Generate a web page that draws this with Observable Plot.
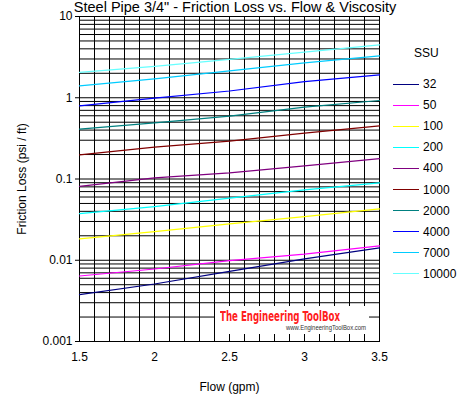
<!DOCTYPE html>
<html>
<head>
<meta charset="utf-8">
<script src="https://cdn.jsdelivr.net/npm/d3@7"></script>
<script src="https://cdn.jsdelivr.net/npm/@observablehq/plot@0.6"></script>
<style>
  html, body { margin: 0; padding: 0; background: #fff; }
  #wrap { position: relative; width: 470px; height: 407px; font-family: "Liberation Sans", Arial, sans-serif; color: #000; }
  #title { position: absolute; left: 0; width: 470px; top: -1px; text-align: center; font-size: 14.5px; line-height: 16px; padding-left: 0px; white-space: nowrap; }
  #legend { position: absolute; left: 0; top: 0; }
  .lg-title { position: absolute; left: 414px; top: 46px; font-size: 12px; }
  .lg-line { position: absolute; left: 393px; width: 26px; height: 1px; }
  .lg-text { position: absolute; left: 423px; font-size: 12px; line-height: 14px; }
  #wm { position: absolute; left: 215px; top: 306px; width: 154px; height: 28px; background: #fff; }
  #wm .big { position: absolute; left: 5px; top: 2px; width: 120px; font-family: "DejaVu Sans Condensed", "Liberation Sans Narrow", sans-serif; font-weight: bold; font-size: 14px; color: #ff2020; white-space: nowrap; }
  #wm .small { position: absolute; left: 71px; top: 18px; font-size: 7px; color: #333; white-space: nowrap; transform: scaleX(0.85); transform-origin: left top; }
  svg { display: block; }
</style>
</head>
<body>
<div id="wrap">
  <div id="chart"></div>
  <div id="title">Steel Pipe 3/4" - Friction Loss vs. Flow &amp; Viscosity</div>
  <div id="legend"></div>
  <div id="wm"><div class="big"><span id="wmt" style="display:inline-block;transform-origin:left top;">The Engineering ToolBox</span></div><div class="small">www.EngineeringToolBox.com</div></div>
</div>
<script>
// Flow (gpm)
const flows = [1.5, 2, 2.5, 3, 3.5];

// Friction loss (psi/ft) per viscosity (SSU), read at the flows above
const ssu32    = [0.00377, 0.0051, 0.0073, 0.0104, 0.0142];
const ssu50    = [0.0064, 0.0078, 0.0099, 0.0119, 0.0150];
const ssu100   = [0.0183, 0.0225, 0.028, 0.0344, 0.0428];
const ssu200   = [0.0375, 0.0457, 0.058, 0.0734, 0.0896];
const ssu400   = [0.081, 0.103, 0.119, 0.145, 0.178];
const ssu1000  = [0.198, 0.247, 0.292, 0.366, 0.451];
const ssu2000  = [0.41, 0.49, 0.593, 0.766, 0.925];
const ssu4000  = [0.796, 0.99, 1.21, 1.58, 1.91];
const ssu7000  = [1.40, 1.71, 2.14, 2.69, 3.28];
const ssu10000 = [2.05, 2.43, 2.96, 3.64, 4.48];

const seriesNames = ["32", "50", "100", "200", "400", "1000", "2000", "4000", "7000", "10000"];
const seriesValues = [ssu32, ssu50, ssu100, ssu200, ssu400, ssu1000, ssu2000, ssu4000, ssu7000, ssu10000];
const seriesColors = ["#000080", "#ff00ff", "#ffff00", "#00ffff", "#800080", "#800000", "#008080", "#0000ff", "#00ccff", "#66ffff"];

const yTickValues = [0.001, 0.01, 0.1, 1, 10];
const yTickLabels = ["0.001", "0.01", "0.1", "1", "10"];
const xTickValues = [1.5, 2, 2.5, 3, 3.5];
const xTickLabels = ["1.5", "2", "2.5", "3", "3.5"];

const rows = [];
seriesNames.forEach((name, i) => {
  flows.forEach((f, j) => rows.push({ssu: name, flow: f, loss: seriesValues[i][j]}));
});

const xGrid = d3.range(15, 36).map(d => d / 10);

const chart = Plot.plot({
  width: 470,
  height: 407,
  marginLeft: 79,
  marginRight: 91,
  marginTop: 16,
  marginBottom: 66,
  style: {fontFamily: '"Liberation Sans", Arial, sans-serif', fontSize: "12px", color: "#000", background: "transparent", overflow: "visible"},
  x: {domain: [1.5, 3.5]},
  y: {type: "log", domain: [0.001, 10]},
  color: {domain: seriesNames, range: seriesColors},
  marks: [
    Plot.gridX(xGrid, {stroke: "#000", strokeOpacity: 1, strokeWidth: 1}),
    Plot.gridY({ticks: 60, stroke: "#000", strokeOpacity: 1, strokeWidth: 1}),
    Plot.frame({stroke: "#000", strokeWidth: 1}),
    Plot.line(rows, {x: "flow", y: "loss", z: "ssu", stroke: "ssu", strokeWidth: 1.2}),
    Plot.axisY(yTickValues, {
      tickSize: 4, tickPadding: 3,
      tickFormat: d => yTickLabels[yTickValues.indexOf(d)],
      label: "Friction Loss (psi / ft)", labelAnchor: "center", labelArrow: "none", labelOffset: 62
    }),
    Plot.axisX(xTickValues, {
      tickSize: 0, tickPadding: 11,
      tickFormat: d => xTickLabels[xTickValues.indexOf(d)],
      label: "Flow (gpm)", labelAnchor: "center", labelArrow: "none", labelOffset: 49
    })
  ]
});
document.getElementById("chart").appendChild(chart);

// Fit watermark title to 120px width
const wmt = document.getElementById("wmt");
const w = wmt.getBoundingClientRect().width;
if (w > 0) wmt.style.transform = `scaleX(${120 / w})`;

// Legend
const legend = document.getElementById("legend");
const lt = document.createElement("div");
lt.className = "lg-title"; lt.textContent = "SSU";
legend.appendChild(lt);
seriesNames.forEach((name, i) => {
  const y = 84 + i * 21.1;
  const ln = document.createElement("div");
  ln.className = "lg-line";
  ln.style.top = (y - 0.5) + "px";
  ln.style.background = seriesColors[i];
  legend.appendChild(ln);
  const tx = document.createElement("div");
  tx.className = "lg-text";
  tx.style.top = (y - 7) + "px";
  tx.textContent = name;
  legend.appendChild(tx);
});
</script>
</body>
</html>
